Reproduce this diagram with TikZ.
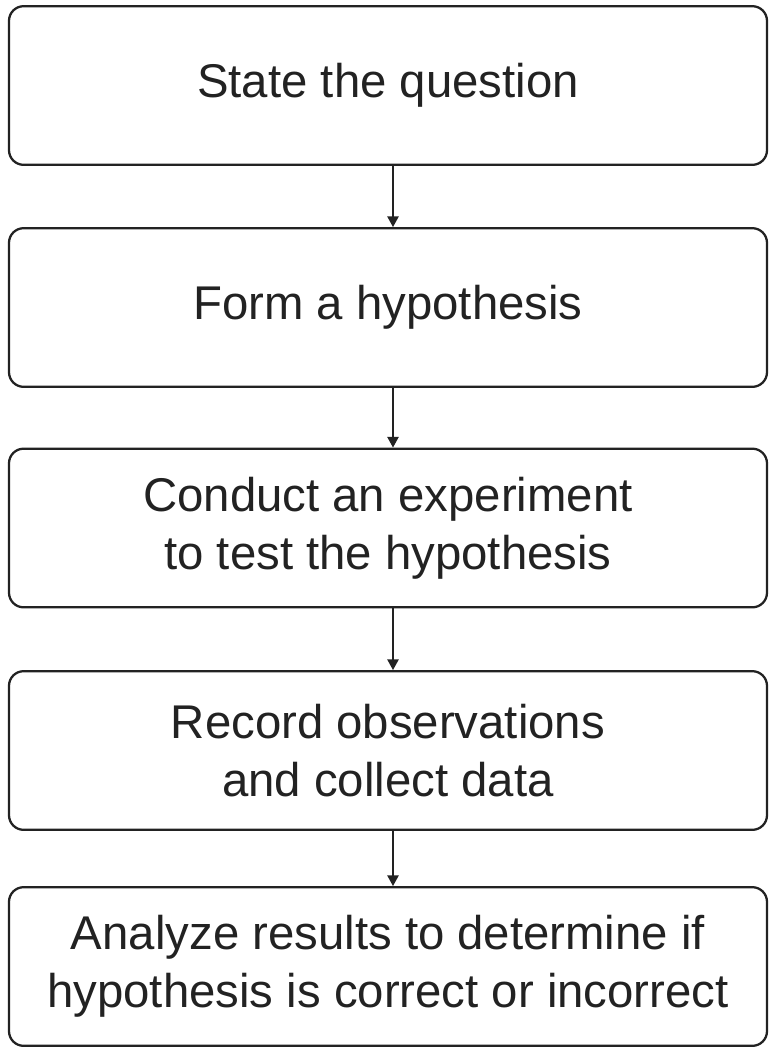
\documentclass[tikz,border=0pt]{standalone}
\usepackage{fontspec}
\setmainfont{Liberation Sans}
\usetikzlibrary{arrows.meta}
\definecolor{ink}{HTML}{222222}
\tikzset{
  stepbox/.style={draw=ink, line width=1.7pt, rounded corners=11pt, fill=white,
    minimum width=568.5pt, minimum height=119pt, inner sep=0pt, align=center,
    text=ink, font=\fontsize{35.5}{43.5}\selectfont},
  flow/.style={draw=ink, line width=1.1pt, -{Triangle[length=8pt,width=8.5pt]}}
}
\begin{document}
\begin{tikzpicture}[x=0.75pt, y=-0.75pt]
\useasboundingbox (0,0) rectangle (769,1047);
\node[stepbox] (s1) at (388,85.5) {State the question};
\node[stepbox] (s2) at (388,307.5) {Form a hypothesis};
\node[stepbox] (s3) at (388,528) {Conduct an experiment\\to test the hypothesis};
\node[stepbox] (s4) at (388,750.5) {Record observations\\and collect data};
\node[stepbox] (s5) at (388,966.5) {Analyze results to determine if\\hypothesis is correct or incorrect};
\draw[flow] (s1.south -| 393,0) -- (s2.north -| 393,0);
\draw[flow] (s2.south -| 393,0) -- (s3.north -| 393,0);
\draw[flow] (s3.south -| 393,0) -- (s4.north -| 393,0);
\draw[flow] (s4.south -| 393,0) -- (s5.north -| 393,0);
\end{tikzpicture}
\end{document}
